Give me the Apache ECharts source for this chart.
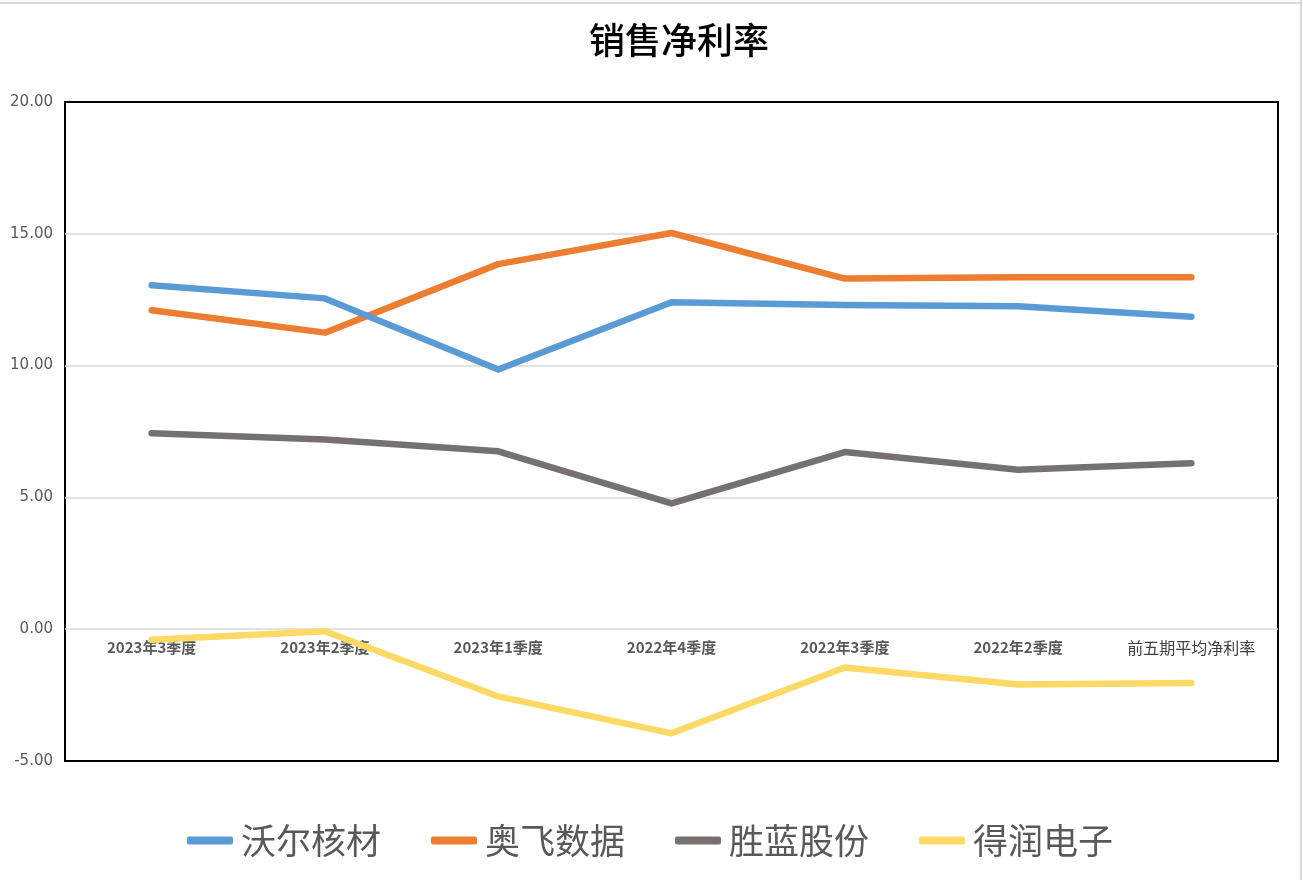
<!DOCTYPE html>
<html>
<head>
<meta charset="utf-8">
<script src="https://cdn.jsdelivr.net/npm/echarts@6/dist/echarts.min.js"></script>
<style>
html,body{margin:0;padding:0;background:#fff;}
#c{width:1303px;height:880px;}
</style>
</head>
<body>
<div id="c"></div>
<script>
const categories = ['2023年3季度','2023年2季度','2023年1季度','2022年4季度','2022年3季度','2022年2季度','前五期平均净利率'];
const seriesNames = ['沃尔核材','奥飞数据','胜蓝股份','得润电子'];
const woer = [13.05, 12.55, 9.85, 12.4, 12.3, 12.25, 11.85];
const aofei = [12.1, 11.25, 13.85, 15.03, 13.3, 13.35, 13.35];
const shenglan = [7.43, 7.2, 6.75, 4.77, 6.72, 6.05, 6.3];
const derun = [-0.4, -0.08, -2.55, -3.95, -1.45, -2.1, -2.04];
const yTicks = {min: -5, max: 20, interval: 5};

const colors = ['#5B9BD5','#ED7D31','#767171','#FFD966'];
const values = [woer, aofei, shenglan, derun];

const gridTop = 102, gridBottom = 119, chartH = 880;
const plotH = chartH - gridTop - gridBottom;
// distance of the zero line above the bottom edge of the plot, from the axis range
const zeroFromBottom = plotH * (0 - yTicks.min) / (yTicks.max - yTicks.min);

const chart = echarts.init(document.getElementById('c'));
chart.setOption({
  animation: false,
  backgroundColor: '#fff',
  title: {
    text: '销售净利率',
    left: 584,
    top: 17,
    textStyle: {fontFamily: 'Noto Sans CJK SC', fontSize: 36, fontWeight: 500, color: '#000'}
  },
  legend: {
    left: 182,
    top: 818,
    itemWidth: 46,
    itemHeight: 8,
    itemGap: 50,
    icon: 'roundRect',
    data: seriesNames,
    textStyle: {fontFamily: 'Noto Sans CJK SC', fontSize: 35, color: '#595959', padding: [0,0,0,3]}
  },
  grid: {
    left: 65, right: 25, top: gridTop, bottom: gridBottom,
    show: true, borderColor: '#000', borderWidth: 2, containLabel: false
  },
  xAxis: {
    type: 'category',
    data: categories,
    boundaryGap: true,
    position: 'bottom',
    offset: -zeroFromBottom,
    axisLine: {show: false, onZero: false},
    axisTick: {show: false},
    axisLabel: {
      margin: 11,
      interval: 0,
      formatter: function (v, i) { return i === 6 ? '{n|' + v + '}' : '{b|' + v + '}'; },
      rich: {
        b: {fontFamily: 'Noto Sans CJK SC', fontSize: 15, fontWeight: 'bold', color: '#595959'},
        n: {fontFamily: 'Noto Sans CJK SC', fontSize: 16, fontWeight: 'normal', color: '#404040'}
      }
    },
    splitLine: {show: false}
  },
  yAxis: {
    type: 'value',
    min: yTicks.min, max: yTicks.max, interval: yTicks.interval,
    axisLine: {show: false},
    axisTick: {show: false},
    axisLabel: {
      margin: 12,
      padding: [5, 0, 0, 0],
      fontFamily: 'DejaVu Sans', fontSize: 15, color: '#595959',
      formatter: function (v) { return v.toFixed(2); }
    },
    splitLine: {show: true, showMinLine: false, showMaxLine: false, lineStyle: {color: '#d9d9d9', width: 1.5}}
  },
  graphic: [
    {type: 'rect', shape: {x: 0, y: 2, width: 1303, height: 2}, style: {fill: '#d9d9d9'}, silent: true},
    {type: 'rect', shape: {x: 1300, y: 0, width: 2, height: 880}, style: {fill: '#d9d9d9'}, silent: true}
  ],
  series: seriesNames.map(function (n, i) {
    return {
      name: n,
      type: 'line',
      data: values[i],
      symbol: 'none',
      color: colors[i],
      lineStyle: {width: 6.5, color: colors[i], cap: 'round', join: 'round'},
      z: 10 - i
    };
  })
});
</script>
</body>
</html>
